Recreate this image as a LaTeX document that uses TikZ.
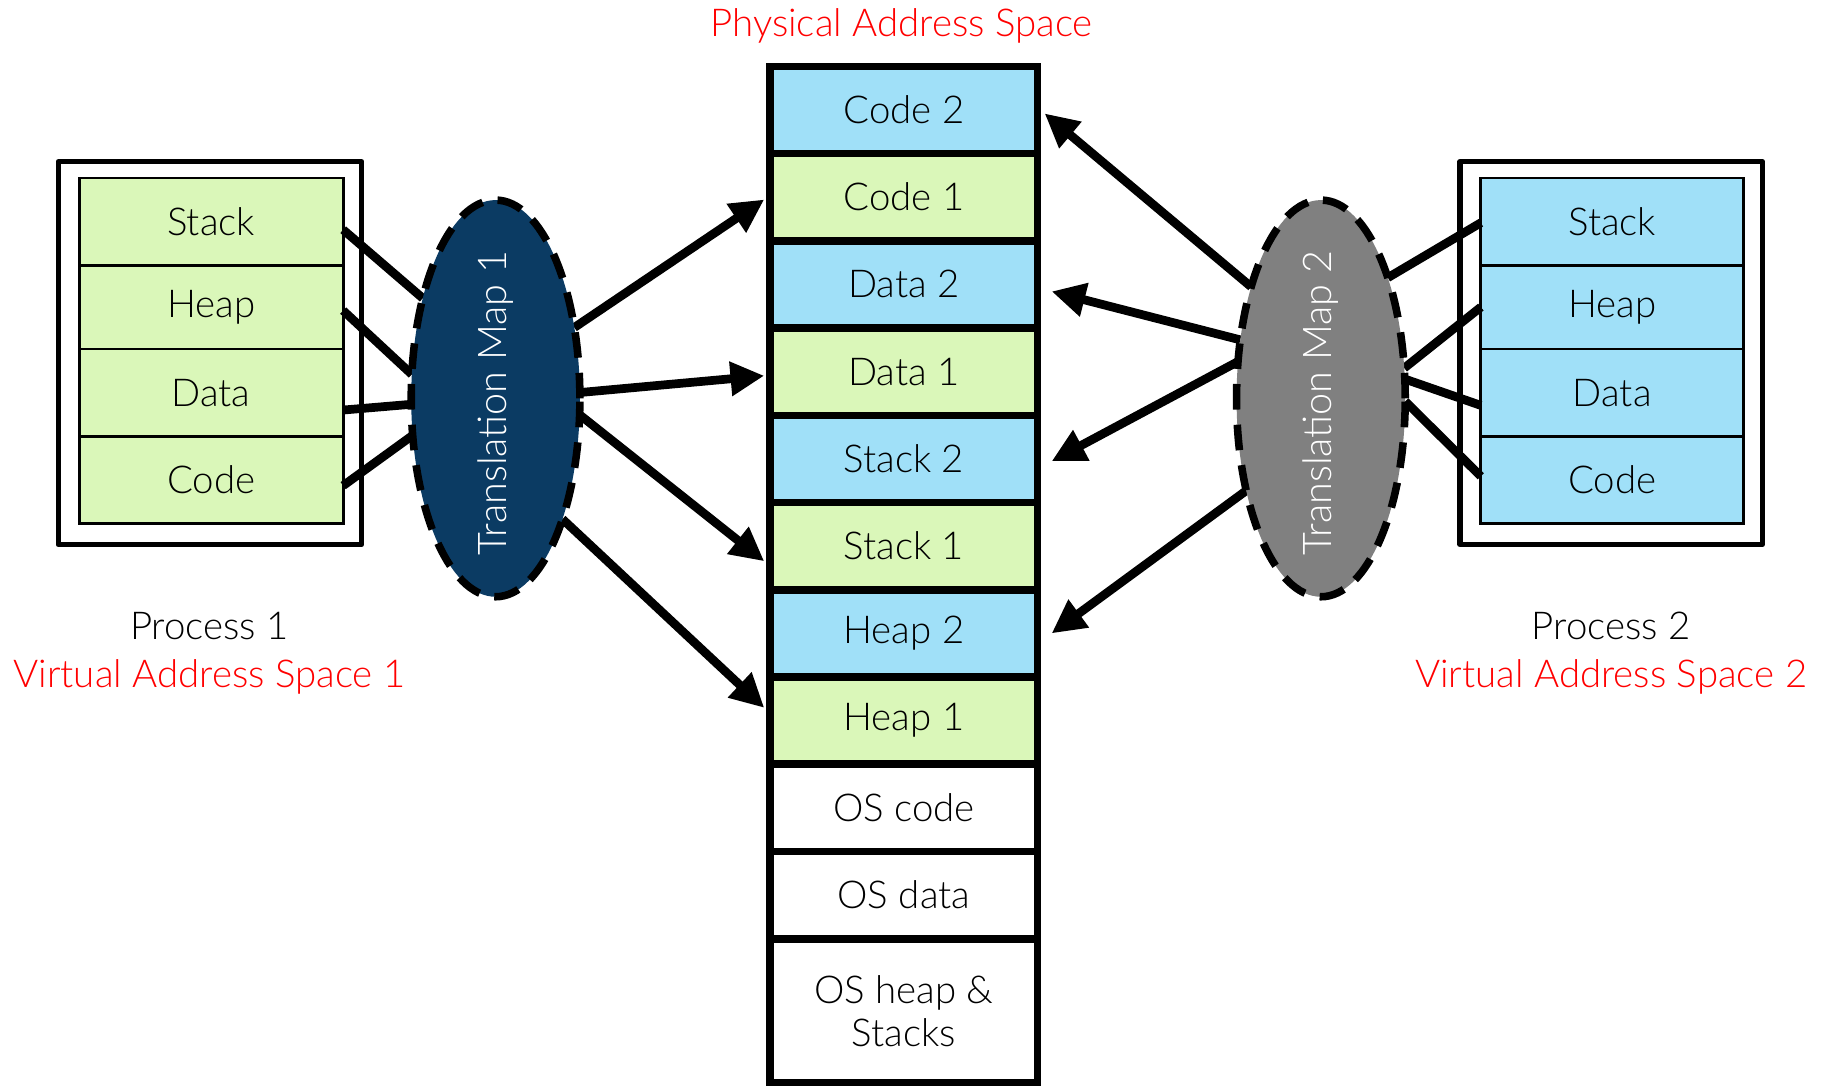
\documentclass[tikz,border=0pt]{standalone}
\usepackage{fontspec}
\setmainfont{Lato Light}
\usetikzlibrary{arrows.meta,shapes.geometric,calc}
\definecolor{pgreen}{HTML}{DAF7B9}
\definecolor{pblue}{HTML}{A0E0F8}
\definecolor{navy}{HTML}{0B3B63}
\definecolor{mapgray}{HTML}{808080}
\definecolor{pred}{HTML}{FF0000}
\begin{document}
\begin{tikzpicture}[x=1pt,y=-1pt,
  every node/.style={font=\fontsize{33}{39}\selectfont, inner sep=0pt, outer sep=0pt},
  vrow/.style={draw, line width=2.5pt, minimum width=227pt},
  vbox/.style={draw, line width=4.5pt, line join=round, fill=white, minimum width=261pt, minimum height=329pt},
  prow/.style={draw, line width=6.5pt, minimum width=230pt, minimum height=75pt},
  link/.style={line width=7.5pt},
  arr/.style={line width=7.5pt, -{Triangle[length=29pt,width=28pt]}},
  tmap/.style={ellipse, draw, line width=6.5pt, dash pattern=on 22pt off 13pt, minimum width=145pt, minimum height=341pt},
  maptext/.style={rotate=90, text=white, font=\fontsize{34}{40}\selectfont}
]
\useasboundingbox (0,0) rectangle (1568,933);

% Process 1
\node[vbox] (p1box) at (180.5,303.5) {};
\node[vrow, fill=pgreen, minimum height=75pt] (p1s) at (181.5,190.5) {Stack};
\node[vrow, fill=pgreen, minimum height=72pt] (p1h) at (181.5,264) {Heap};
\node[vrow, fill=pgreen, minimum height=75pt] (p1d) at (181.5,337.5) {Data};
\node[vrow, fill=pgreen, minimum height=75pt] (p1c) at (181.5,412.5) {Code};

% Process 2
\node[vbox, minimum width=260pt] (p2box) at (1385,303.5) {};
\node[vrow, fill=pblue, minimum width=226pt, minimum height=75pt] (p2s) at (1386,190.5) {Stack};
\node[vrow, fill=pblue, minimum width=226pt, minimum height=72pt] (p2h) at (1386,264) {Heap};
\node[vrow, fill=pblue, minimum width=226pt, minimum height=75pt] (p2d) at (1386,337.5) {Data};
\node[vrow, fill=pblue, minimum width=226pt, minimum height=75pt] (p2c) at (1386,412.5) {Code};

% Physical memory column
\node[prow, fill=pblue]  (c2) at (777,94.5)  {Code 2};
\node[prow, fill=pgreen] (c1) at (777,169.5) {Code 1};
\node[prow, fill=pblue]  (d2) at (777,244.5) {Data 2};
\node[prow, fill=pgreen] (d1) at (777,319.5) {Data 1};
\node[prow, fill=pblue]  (s2) at (777,394.5) {Stack 2};
\node[prow, fill=pgreen] (s1) at (777,469.5) {Stack 1};
\node[prow, fill=pblue]  (h2) at (777,544.5) {Heap 2};
\node[prow, fill=pgreen] (h1) at (777,619.5) {Heap 1};
\node[prow, fill=white]  (osc) at (777,694.5) {OS code};
\node[prow, fill=white]  (osd) at (777,769.5) {OS data};
\node[prow, fill=white, minimum height=124pt, align=center] (osh) at (777,869) {OS heap \&\\[-2pt]Stacks};

% Labels
\node[text=pred] (title) at (775,22) {Physical Address Space};
\node (pr1) at (180,538) {Process 1};
\node[text=pred] (vas1) at (180,582) {Virtual Address Space 1};
\node (pr2) at (1385,538) {Process 2};
\node[text=pred] (vas2) at (1385,582) {Virtual Address Space 2};

% Ellipse placeholders for anchors (drawn below)
\path (426,342.5) coordinate (e1c);
\path (1135.5,342.5) coordinate (e2c);
\node[tmap, draw=none] (e1) at (e1c) {};
\node[tmap, draw=none] (e2) at (e2c) {};

% Links process 1 -> map 1
\draw[link] ($(p1s.east)+(0,7)$) -- (e1.126);
\draw[link] ($(p1h.east)+(0,3)$) -- (e1.164);
\draw[link] ($(p1d.east)+(0,15)$) -- (e1.184);
\draw[link] ($(p1c.east)+(0,5)$) -- (e1.204);

% Map 1 -> physical
\draw[arr] (e1.42) -- ($(c1.west)+(-5,2)$);
\draw[arr] (e1.4) -- ($(d1.west)+(-5,3.5)$);
\draw[arr] (e1.349) -- ($(s1.west)+(-5,13)$);
\draw[arr] (e1.299) -- ($(h1.west)+(-5,-11)$);

% Links process 2 -> map 2
\draw[link] ($(p2s.west)+(0,1)$) -- (e2.61);
\draw[link] ($(p2h.west)+(0,0)$) -- (e2.20);
\draw[link] ($(p2d.west)+(0,11)$) -- (e2.13);
\draw[link] ($(p2c.west)+(0,-3)$) -- (e2.358);

% Map 2 -> physical
\draw[arr] (e2.122) -- ($(c2.east)+(6,3)$);
\draw[arr] (e2.144) -- ($(d2.east)+(12,6)$);
\draw[arr] (e2.156) -- ($(s2.east)+(12,2)$);
\draw[arr] (e2.231) -- ($(h2.east)+(12,0)$);

% Translation maps on top
\node[tmap, fill=navy] (m1) at (e1c) {};
\node[maptext] (t1) at ($(m1)+(0,4)$) {Translation Map 1};
\node[tmap, fill=mapgray] (m2) at (e2c) {};
\node[maptext] (t2) at ($(m2)+(0,4)$) {Translation Map 2};
\end{tikzpicture}
\end{document}
